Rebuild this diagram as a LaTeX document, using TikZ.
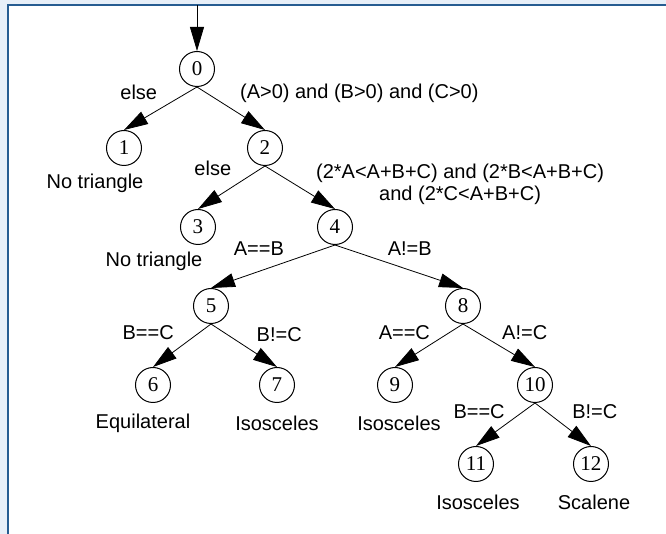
\documentclass[tikz,border=0pt]{standalone}
\usepackage{fontspec}
\setmainfont{Liberation Sans}
\newfontfamily\numfont{Liberation Serif}
\usepackage{tikz}
\usetikzlibrary{shapes,arrows,arrows.meta,positioning}
\definecolor{panelbg}{RGB}{231,239,248}
\definecolor{panelline}{RGB}{38,92,145}

\begin{document}
\begin{tikzpicture}[x=0.5pt, y=0.5pt, node distance=39.5pt,
          >={Triangle[length=12pt,width=7pt]},
          state/.style={circle, draw, line width=0.5pt, minimum size=17.5pt, inner sep=0pt, font=\numfont\fontsize{10.5}{12}\selectfont},
          result/.style={node distance=19pt},
          cond/.style={font=\fontsize{10}{11}\selectfont}]

          \useasboundingbox (0,0) rectangle (666,-534);
          \fill[panelbg] (0,0) rectangle (666,-534);
          \fill[white] (7.5,-5.5) rectangle (666,-534);
          \draw[panelline, line width=1pt] (666,-5.5) -- (7.5,-5.5) -- (7.5,-534);

          \coordinate (entry) at (197,-5.5);
          \node[state] (n0) at (197,-69) {0};
          \node[state, below of=n0, xshift=-36.5pt] (n1) {1};
          \node[state, below of=n0, xshift=34pt] (n2) {2};
          \node[state, below of=n2, xshift=-33.5pt] (n3) {3};
          \node[state, below of=n2, xshift=35pt] (n4) {4};
          \node[state, below of=n4, xshift=-62pt] (n5) {5};
          \node[state, below of=n4, xshift=64pt] (n8) {8};
          \node[state, below of=n5, xshift=-29pt] (n6) {6};
          \node[state, below of=n5, xshift=33pt] (n7) {7};
          \node[state, below of=n8, xshift=-34pt] (n9) {9};
          \node[state, below of=n8, xshift=36pt] (n10) {10};
          \node[state, below of=n10, xshift=-29.5pt] (n11) {11};
          \node[state, below of=n10, xshift=28pt] (n12) {12};

          \node[result, below of=n1, xshift=-14.5pt, yshift=1.5pt] (r1) {No triangle};
          \node[result, below of=n3, xshift=-22pt, yshift=2pt] (r3) {No triangle};
          \node[result, below of=n6, xshift=-5pt] (r6) {Equilateral};
          \node[result, below of=n7] (r7) {Isosceles};
          \node[result, below of=n9, xshift=2pt] (r9) {Isosceles};
          \node[result, below of=n11, xshift=1pt] (r11) {Isosceles};
          \node[result, below of=n12, xshift=1.5pt] (r12) {Scalene};

          \draw[->] (entry) -- (n0.north);
          \draw[->] (n0.south) -- node[cond, pos=0.45, above left] {else} (n1.north);
          \draw[->] (n0.south) -- node[cond, pos=0.53, above right] {(A>0) and (B>0) and (C>0)} (n2.north);
          \draw[->] (n2.south) -- node[cond, pos=0.4, above left] {else} (n3.north);
          \draw[->] (n2.south) -- node[cond, pos=0.415, right=7.5pt, align=center] {(2*A<A+B+C) and (2*B<A+B+C)\\and (2*C<A+B+C)} (n4.north);
          \draw[->] (n4.south) -- node[cond, pos=0.42, above left, xshift=4pt] {A==B} (n5.north);
          \draw[->] (n4.south) -- node[cond, pos=0.42, above right, xshift=-4pt] {A!=B} (n8.north);
          \draw[->] (n5.south) -- node[cond, pos=0.52, above left] {B==C} (n6.north);
          \draw[->] (n5.south) -- node[cond, pos=0.585, above right] {B!=C} (n7.north);
          \draw[->] (n8.south) -- node[cond, pos=0.53, above left, xshift=5pt] {A==C} (n9.north);
          \draw[->] (n8.south) -- node[cond, pos=0.53, above right, xshift=-3pt] {A!=C} (n10.north);
          \draw[->] (n10.south) -- node[cond, pos=0.53, above left, xshift=4pt] {B==C} (n11.north);
          \draw[->] (n10.south) -- node[cond, pos=0.54, above right] {B!=C} (n12.north);
        \end{tikzpicture}
\end{document}
